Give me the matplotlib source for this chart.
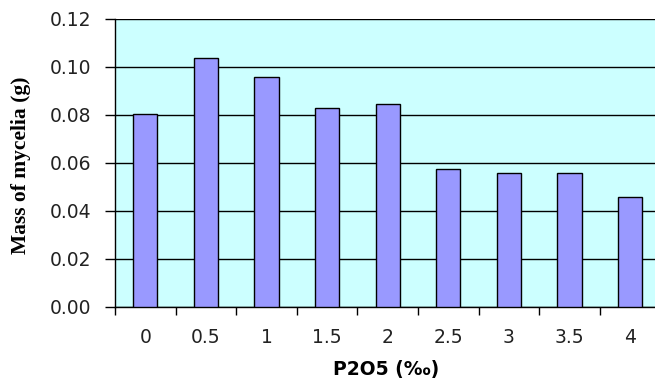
import matplotlib.pyplot as plt
import numpy as np
from matplotlib.ticker import FixedLocator, NullFormatter, FixedFormatter

# data
doses = ['0', '0.5', '1', '1.5', '2', '2.5', '3', '3.5', '4']
mass = [0.0805, 0.1037, 0.0960, 0.0828, 0.0845, 0.0574, 0.0558, 0.0558, 0.0459]
yticks = [0.00, 0.02, 0.04, 0.06, 0.08, 0.10, 0.12]

W, H = 655, 382
fig = plt.figure(figsize=(W / 100, H / 100), dpi=100)
# plot area runs past the right edge of the picture, as in the reference
ax = fig.add_axes([115 / W, (H - 306.7) / H, (660.4 - 115) / W, (306.7 - 19) / H])
ax.set_facecolor('#CCFFFF')

x = np.arange(len(doses))
ax.set_axisbelow(True)
ax.yaxis.grid(True, color='black', lw=1.0)
ax.bar(x, mass, width=0.4, color='#9999FF', edgecolor='black', lw=1.0, zorder=3)

ax.set_xlim(-0.5, len(doses) - 0.5)
ax.set_ylim(0, 0.12)

ax.set_yticks(yticks)
ax.set_yticklabels([f'{v:.2f}' for v in yticks])

# major ticks at category edges, labels at centres
ax.xaxis.set_major_locator(FixedLocator(np.arange(len(doses) + 1) - 0.5))
ax.xaxis.set_major_formatter(NullFormatter())
ax.xaxis.set_minor_locator(FixedLocator(x))
ax.xaxis.set_minor_formatter(FixedFormatter(doses))
ax.tick_params(axis='x', which='major', length=6, width=1, direction='out')
ax.tick_params(axis='x', which='minor', length=0, pad=15)
ax.tick_params(axis='y', length=7, width=1, pad=10)

for lab in ax.get_yticklabels() + ax.xaxis.get_minorticklabels():
    lab.set_fontfamily('DejaVu Sans')
    lab.set_fontsize(13.5)
    lab.set_color('#222222')

for s in ['top', 'right']:
    ax.spines[s].set_visible(False)
ax.spines['left'].set_linewidth(1.0)
ax.spines['bottom'].set_linewidth(1.0)

fig.text(386 / W, 1 - 370 / H, 'P2O5 (‰)', ha='center', va='center',
         fontfamily='DejaVu Sans', fontweight='bold', fontsize=13.5)
fig.text(21 / W, 1 - 165 / H, 'Mass of mycelia (g)', rotation=90, ha='center', va='center',
         fontfamily='Liberation Serif', fontweight='bold', fontsize=15.5)

fig.savefig('out.png', dpi=100)
